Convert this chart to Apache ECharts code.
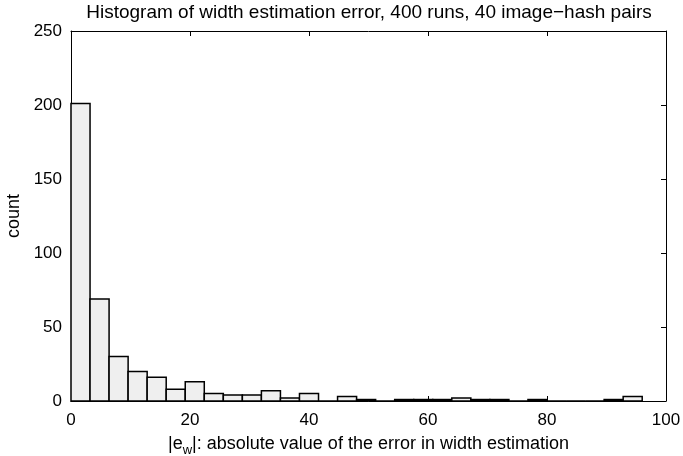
<!DOCTYPE html>
<html>
<head>
<meta charset="utf-8">
<script src="https://cdn.jsdelivr.net/npm/echarts@6/dist/echarts.min.js"></script>
<style>
  html, body { margin: 0; padding: 0; background: #fff; }
  #chart { width: 683px; height: 456px; }
</style>
</head>
<body>
<div id="chart"></div>
<script>
// Histogram bins of |e_w| (bin edges) and the number of runs falling in each bin
const binEdges = [0, 3.2, 6.4, 9.6, 12.8, 16, 19.2, 22.4, 25.6, 28.8, 32, 35.2, 38.4, 41.6, 44.8, 48,
                  51.2, 54.4, 57.6, 60.8, 64, 67.2, 70.4, 73.6, 76.8, 80, 83.2, 86.4, 89.6, 92.8, 96];
const counts = [201, 69, 30, 20, 16, 8, 13, 5, 4, 4, 7, 2, 5, 0, 3, 1, 0, 1, 1, 1, 2, 1, 1, 0, 1, 0, 0, 0, 1, 3];
const xTicks = [0, 20, 40, 60, 80, 100];
const yTicks = [0, 50, 100, 150, 200, 250];

const titleText = 'Histogram of width estimation error, 400 runs, 40 image\u2212hash pairs';
const yLabel = 'count';

const FONT = '"Liberation Sans", Arial, Helvetica, sans-serif';
const FS_TICK = 17;
const FS_TEXT = 18;
const FS_TITLE = 19;

const bins = counts.map((c, i) => [binEdges[i], binEdges[i + 1], c]);

const chart = echarts.init(document.getElementById('chart'), null, { renderer: 'canvas' });

function axisCommon() {
  return {
    axisLine: { show: true, onZero: false, lineStyle: { color: '#000', width: 1 } },
    axisTick: { show: true, inside: true, length: 5, lineStyle: { color: '#000', width: 1 } },
    splitLine: { show: false }
  };
}

chart.setOption({
  animation: false,
  backgroundColor: '#fff',
  title: {
    text: titleText,
    left: 364, top: -2, textAlign: 'center',
    textStyle: { fontFamily: FONT, fontSize: FS_TITLE, fontWeight: 'normal', color: '#000' }
  },
  grid: { left: 71, right: 17, top: 31, bottom: 55, containLabel: false, outerBoundsMode: 'none' },
  xAxis: [
    Object.assign({
      type: 'value', min: xTicks[0], max: xTicks[xTicks.length - 1], interval: 20,
      position: 'bottom',
      axisLabel: { fontFamily: FONT, fontSize: FS_TICK, color: '#000', margin: 11 },
      name: '{p||e}{s|w}{p||: absolute value of the error in width estimation}',
      nameLocation: 'middle', nameGap: 31,
      nameTextStyle: {
        fontFamily: FONT, fontSize: FS_TEXT, color: '#000',
        rich: {
          p: { fontFamily: FONT, fontSize: FS_TEXT, color: '#000' },
          s: { fontFamily: FONT, fontSize: 13, color: '#000', padding: [12, 0, 0, 0] }
        }
      }
    }, axisCommon()),
    Object.assign({
      type: 'value', min: xTicks[0], max: xTicks[xTicks.length - 1], interval: 20,
      position: 'top', axisLabel: { show: false }
    }, axisCommon())
  ],
  yAxis: [
    Object.assign({
      type: 'value', min: yTicks[0], max: yTicks[yTicks.length - 1], interval: 50,
      position: 'left',
      axisLabel: { fontFamily: FONT, fontSize: FS_TICK, color: '#000', margin: 9 },
      name: yLabel, nameLocation: 'middle', nameGap: 47, nameRotate: 90,
      nameTextStyle: { fontFamily: FONT, fontSize: FS_TEXT, color: '#000' }
    }, axisCommon()),
    Object.assign({
      type: 'value', min: yTicks[0], max: yTicks[yTicks.length - 1], interval: 50,
      position: 'right', axisLabel: { show: false }
    }, axisCommon())
  ],
  series: [{
    type: 'custom',
    xAxisIndex: 0, yAxisIndex: 0,
    data: bins,
    encode: { x: [0, 1], y: 2 },
    clip: false,
    z: 1,
    renderItem: function (params, api) {
      const top = api.coord([api.value(0), api.value(2)]);
      const bottom = api.coord([api.value(1), 0]);
      return {
        type: 'rect',
        shape: { x: top[0], y: top[1], width: bottom[0] - top[0], height: bottom[1] - top[1] },
        style: { fill: '#efefef', stroke: '#000', lineWidth: 1.5 }
      };
    }
  }]
});
</script>
</body>
</html>
